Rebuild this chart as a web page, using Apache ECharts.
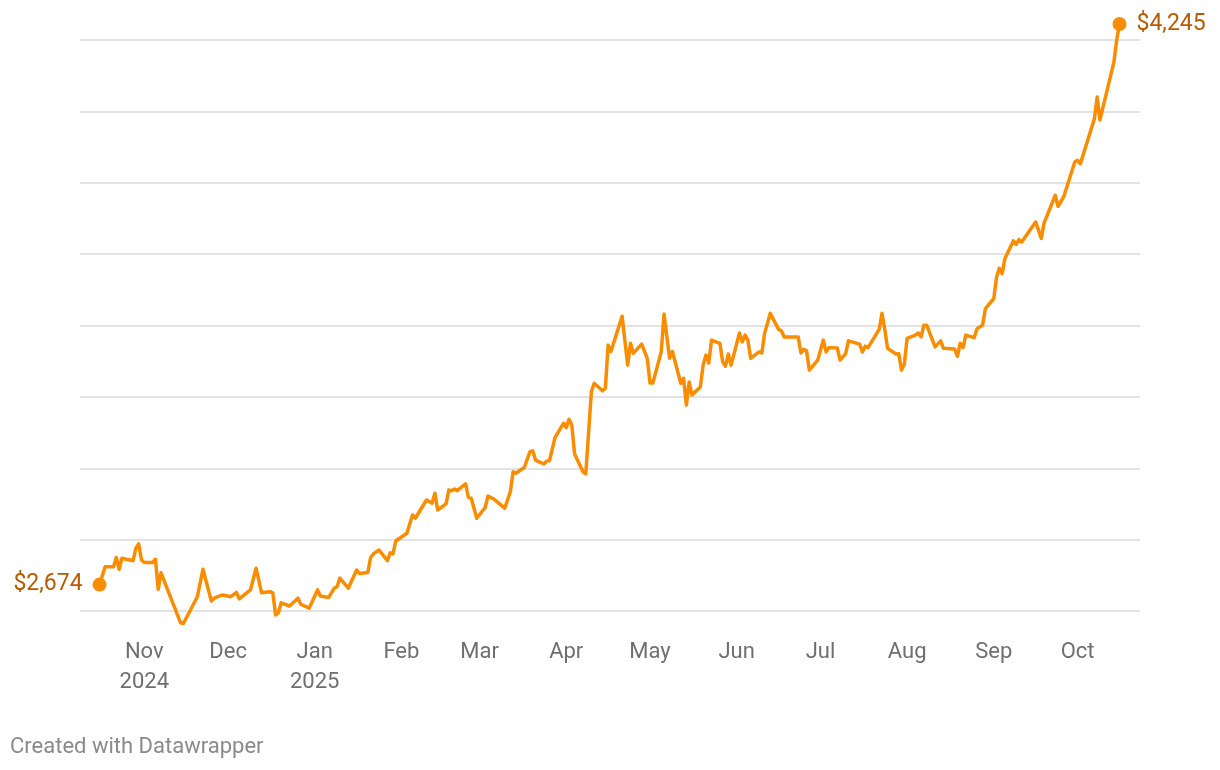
<!DOCTYPE html>
<html>
<head>
<meta charset="utf-8">
<script src="https://cdn.jsdelivr.net/npm/echarts@6/dist/echarts.min.js"></script>
<style>
  html, body { margin: 0; padding: 0; background: #fff; }
  #chart { width: 1220px; height: 770px; }
</style>
</head>
<body>
<div id="chart"></div>
<script>
// gold price, US$ per ounce
const dates = [
  '2024-10-16', '2024-10-18', '2024-10-21', '2024-10-22', '2024-10-23', '2024-10-24', '2024-10-28', '2024-10-29',
  '2024-10-30', '2024-10-31', '2024-11-01', '2024-11-04', '2024-11-05', '2024-11-06', '2024-11-07', '2024-11-14',
  '2024-11-15', '2024-11-20', '2024-11-22', '2024-11-25', '2024-11-26', '2024-11-29', '2024-12-02', '2024-12-04',
  '2024-12-05', '2024-12-09', '2024-12-11', '2024-12-13', '2024-12-16', '2024-12-17', '2024-12-18', '2024-12-19',
  '2024-12-20', '2024-12-23', '2024-12-26', '2024-12-27', '2024-12-30', '2025-01-02', '2025-01-03', '2025-01-06',
  '2025-01-08', '2025-01-09', '2025-01-10', '2025-01-13', '2025-01-16', '2025-01-17', '2025-01-20', '2025-01-21',
  '2025-01-22', '2025-01-24', '2025-01-27', '2025-01-28', '2025-01-29', '2025-01-30', '2025-02-03', '2025-02-05',
  '2025-02-06', '2025-02-10', '2025-02-12', '2025-02-13', '2025-02-14', '2025-02-17', '2025-02-18', '2025-02-19',
  '2025-02-20', '2025-02-21', '2025-02-24', '2025-02-25', '2025-02-26', '2025-02-28', '2025-03-03', '2025-03-04',
  '2025-03-06', '2025-03-10', '2025-03-12', '2025-03-13', '2025-03-14', '2025-03-17', '2025-03-19', '2025-03-20',
  '2025-03-21', '2025-03-24', '2025-03-25', '2025-03-26', '2025-03-28', '2025-03-31', '2025-04-01', '2025-04-02',
  '2025-04-03', '2025-04-04', '2025-04-07', '2025-04-08', '2025-04-10', '2025-04-11', '2025-04-14', '2025-04-15',
  '2025-04-16', '2025-04-17', '2025-04-21', '2025-04-23', '2025-04-24', '2025-04-25', '2025-04-28', '2025-04-30',
  '2025-05-01', '2025-05-02', '2025-05-05', '2025-05-06', '2025-05-08', '2025-05-09', '2025-05-12', '2025-05-13',
  '2025-05-14', '2025-05-15', '2025-05-16', '2025-05-19', '2025-05-20', '2025-05-21', '2025-05-22', '2025-05-23',
  '2025-05-26', '2025-05-27', '2025-05-28', '2025-05-29', '2025-05-30', '2025-06-02', '2025-06-03', '2025-06-04',
  '2025-06-05', '2025-06-06', '2025-06-09', '2025-06-10', '2025-06-11', '2025-06-13', '2025-06-16', '2025-06-17',
  '2025-06-18', '2025-06-23', '2025-06-24', '2025-06-25', '2025-06-26', '2025-06-27', '2025-06-30', '2025-07-02',
  '2025-07-03', '2025-07-04', '2025-07-07', '2025-07-08', '2025-07-10', '2025-07-11', '2025-07-15', '2025-07-16',
  '2025-07-17', '2025-07-18', '2025-07-22', '2025-07-23', '2025-07-24', '2025-07-25', '2025-07-28', '2025-07-29',
  '2025-07-30', '2025-07-31', '2025-08-01', '2025-08-04', '2025-08-05', '2025-08-06', '2025-08-07', '2025-08-08',
  '2025-08-11', '2025-08-13', '2025-08-14', '2025-08-18', '2025-08-19', '2025-08-20', '2025-08-21', '2025-08-22',
  '2025-08-25', '2025-08-26', '2025-08-28', '2025-08-29', '2025-09-01', '2025-09-02', '2025-09-03', '2025-09-04',
  '2025-09-05', '2025-09-08', '2025-09-09', '2025-09-10', '2025-09-11', '2025-09-16', '2025-09-18', '2025-09-19',
  '2025-09-23', '2025-09-24', '2025-09-26', '2025-09-30', '2025-10-01', '2025-10-02', '2025-10-07', '2025-10-08',
  '2025-10-09', '2025-10-14', '2025-10-15', '2025-10-16'
];
const prices = [
  2674, 2724, 2724, 2750, 2717, 2748, 2741, 2776,
  2788, 2743, 2736, 2736, 2745, 2661, 2707, 2567,
  2565, 2640, 2717, 2628, 2636, 2645, 2640, 2652,
  2634, 2659, 2720, 2651, 2654, 2651, 2589, 2595,
  2623, 2614, 2636, 2619, 2608, 2659, 2642, 2638,
  2664, 2668, 2692, 2664, 2715, 2705, 2708, 2750,
  2760, 2771, 2741, 2763, 2760, 2796, 2818, 2869,
  2860, 2911, 2902, 2930, 2883, 2900, 2939, 2937,
  2942, 2937, 2956, 2918, 2916, 2860, 2890, 2922,
  2914, 2888, 2934, 2990, 2986, 3002, 3046, 3049,
  3023, 3012, 3020, 3021, 3086, 3126, 3114, 3137,
  3121, 3040, 2990, 2984, 3214, 3238, 3217, 3224,
  3345, 3327, 3426, 3289, 3350, 3322, 3348, 3308,
  3239, 3239, 3326, 3432, 3308, 3327, 3238, 3252,
  3177, 3242, 3205, 3228, 3289, 3317, 3295, 3359,
  3350, 3298, 3286, 3320, 3289, 3379, 3354, 3373,
  3359, 3308, 3326, 3323, 3378, 3434, 3389, 3385,
  3368, 3368, 3323, 3333, 3329, 3275, 3303, 3359,
  3326, 3338, 3337, 3303, 3321, 3357, 3348, 3326,
  3342, 3338, 3389, 3434, 3389, 3336, 3320, 3321,
  3275, 3292, 3364, 3373, 3379, 3368, 3401, 3401,
  3340, 3357, 3336, 3334, 3314, 3350, 3338, 3373,
  3366, 3391, 3401, 3447, 3475, 3536, 3560, 3545,
  3588, 3637, 3627, 3641, 3634, 3690, 3644, 3687,
  3765, 3734, 3760, 3858, 3863, 3853, 3979, 4040,
  3976, 4138, 4200, 4245
];

const tickDates = ['2024-11-01', '2024-12-01', '2025-01-01', '2025-02-01', '2025-03-01', '2025-04-01',
  '2025-05-01', '2025-06-01', '2025-07-01', '2025-08-01', '2025-09-01', '2025-10-01'];
const tickLabels = ['Nov\n2024', 'Dec', 'Jan\n2025', 'Feb', 'Mar', 'Apr', 'May', 'Jun', 'Jul', 'Aug', 'Sep', 'Oct'];

const toTime = (s) => {
  const [y, m, d] = s.split('-').map(Number);
  return Date.UTC(y, m - 1, d);
};

const lineData = dates.map((d, i) => [toTime(d), prices[i]]);
const tickTimes = tickDates.map(toTime);
const last = lineData.length - 1;

const chart = echarts.init(document.getElementById('chart'));

const option = {
  animation: false,
  textStyle: { fontFamily: 'Roboto' },
  grid: { left: 80, right: 80, top: 40, bottom: 159 },
  xAxis: {
    type: 'value',
    min: Date.UTC(2024, 9, 9),
    max: Date.UTC(2025, 9, 23, 8),
    axisLine: { show: false },
    axisTick: { show: false },
    splitLine: { show: false },
    axisLabel: {
      customValues: tickTimes,
      formatter: (v) => {
        const i = tickTimes.indexOf(v);
        return i >= 0 ? tickLabels[i] : '';
      },
      color: '#6f6f6f',
      fontSize: 22,
      lineHeight: 30,
      margin: 26,
      showMinLabel: true,
      showMaxLabel: true
    }
  },
  yAxis: {
    type: 'value',
    min: 2600,
    max: 4200,
    interval: 200,
    axisLabel: { show: false },
    axisLine: { show: false },
    axisTick: { show: false },
    splitLine: { lineStyle: { color: '#e3e3e3', width: 2 } }
  },
  graphic: [
    {
      type: 'text',
      left: 10,
      top: 736,
      style: { text: 'Created with Datawrapper', fill: '#8a8a8a', fontSize: 22, fontFamily: 'Roboto' }
    }
  ],
  series: [
    {
      type: 'line',
      data: lineData,
      showSymbol: false,
      clip: false,
      lineStyle: { color: '#fa8c00', width: 3.5, join: 'round', cap: 'round' },
      z: 2
    },
    {
      type: 'scatter',
      symbolSize: 14,
      clip: false,
      itemStyle: { color: '#fa8c00', opacity: 1 },
      data: [
        { value: lineData[0], label: { position: 'left' } },
        { value: lineData[last], label: { position: 'right' } }
      ],
      label: {
        show: true,
        distance: 10,
        color: '#b85a00',
        fontSize: 23,
        formatter: (p) => '$' + p.value[1].toLocaleString('en-US')
      },
      z: 3
    }
  ]
};

chart.setOption(option);
</script>
</body>
</html>
